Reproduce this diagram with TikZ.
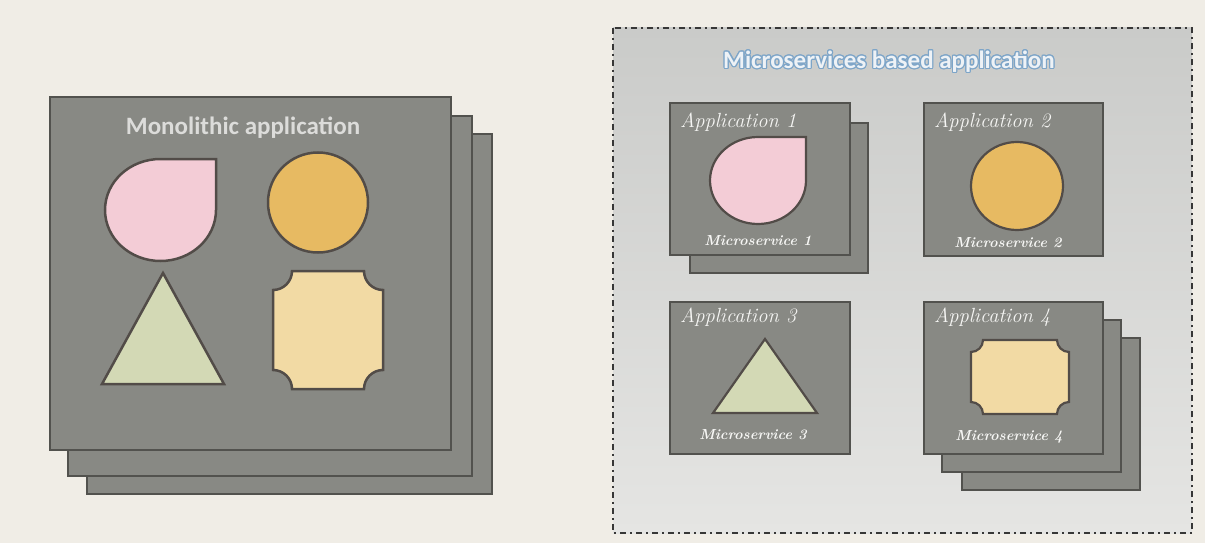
\documentclass[tikz,border=0pt]{standalone}
\usepackage{fontspec}
\usepackage{contour}
\newfontfamily\titlefont{Carlito}
\definecolor{bgc}{RGB}{240,237,230}
\definecolor{boxc}{RGB}{136,137,132}
\definecolor{boxline}{RGB}{82,82,78}
\definecolor{shapeline}{RGB}{82,76,72}
\definecolor{pinkc}{RGB}{243,204,214}
\definecolor{orangec}{RGB}{231,186,98}
\definecolor{greenc}{RGB}{211,217,181}
\definecolor{beigec}{RGB}{242,218,164}
\definecolor{panelA}{RGB}{202,203,201}
\definecolor{panelB}{RGB}{229,229,227}
\definecolor{dashc}{RGB}{55,55,55}
\definecolor{monotext}{RGB}{220,220,218}
\definecolor{microtext}{RGB}{238,242,246}
\definecolor{microglow}{RGB}{125,165,200}
\definecolor{labeltext}{RGB}{246,246,244}
\newcommand\NotchRect[5]{(#1+#5,#2) -- (#3-#5,#2) arc[start angle=180,end angle=90,radius=#5] -- (#3,#4-#5) arc[start angle=270,end angle=180,radius=#5] -- (#1+#5,#4) arc[start angle=0,end angle=-90,radius=#5] -- (#1,#2+#5) arc[start angle=90,end angle=0,radius=#5] -- cycle}
\tikzset{
  appbox/.style={fill=boxc, draw=boxline, line width=2.5pt},
  shapeb/.style={draw=shapeline, line width=2.5pt},
  shapes/.style={draw=shapeline, line width=2.2pt},
  titlebox/.style={inner sep=0pt, font=\titlefont\bfseries\fontsize{25}{28}\selectfont},
  applabel/.style={inner sep=0pt, anchor=west, text=labeltext, font=\itshape\fontsize{20.5}{22}\selectfont},
  mslabel/.style={inner sep=0pt, text=labeltext, font=\bfseries\itshape\fontsize{14.5}{17}\selectfont},
}
\begin{document}
\begin{tikzpicture}[x=1pt,y=-1pt]
\useasboundingbox (0,0) rectangle (1205,543);
\fill[bgc] (0,0) rectangle (1205,543);
% ---------- Monolithic application ----------
\draw[appbox] (87,134) rectangle (492,494);
\draw[appbox] (68,116) rectangle (472,476);
\draw[appbox] (50,97) rectangle (451,450);
\node[titlebox, text=monotext] (mono) at (243,128) {Monolithic application};
\draw[shapeb, fill=pinkc] (216,159) -- (160.5,159) arc[start angle=270,end angle=0,x radius=55.5,y radius=51] -- cycle;
\draw[shapeb, fill=orangec] (318,202.5) circle[radius=50];
\draw[shapeb, fill=greenc] (163,273) -- (224,384) -- (102,384) -- cycle;
\draw[shapeb, fill=beigec] \NotchRect{273}{271}{383}{389}{19};
% ---------- Microservices based application ----------
\shade[top color=panelA, bottom color=panelB] (613,28) rectangle (1192,533);
\draw[dashc, line width=1.8pt, dash pattern=on 6pt off 4pt on 2pt off 4pt] (613,28) rectangle (1192,533);
\contourlength{1.1pt}
\node[titlebox, text=microtext] (micro) at (889,62) {\contour{microglow}{Microservices based application}};
% App 1
\draw[appbox] (690,123) rectangle (868,273);
\draw[appbox] (670,103) rectangle (850,255);
\node[applabel] (a1) at (680,122) {Application 1};
\draw[shapes, fill=pinkc] (806,137) -- (758,137) arc[start angle=270,end angle=0,x radius=48,y radius=43.5] -- cycle;
\node[mslabel] (m1) at (758,241) {Microservice 1};
% App 2
\draw[appbox] (924,103) rectangle (1103,256);
\node[applabel] (a2) at (934,122) {Application 2};
\draw[shapes, fill=orangec] (1017,186) ellipse[x radius=46,y radius=44];
\node[mslabel] (m2) at (1008,243) {Microservice 2};
% App 3
\draw[appbox] (670,302) rectangle (850,454);
\node[applabel] (a3) at (680,317) {Application 3};
\draw[shapes, fill=greenc] (765,339) -- (817,413) -- (713,413) -- cycle;
\node[mslabel] (m3) at (753,435) {Microservice 3};
% App 4
\draw[appbox] (962,338) rectangle (1140,490);
\draw[appbox] (942,320) rectangle (1121,472);
\draw[appbox] (924,302) rectangle (1103,454);
\node[applabel] (a4) at (934,317) {Application 4};
\draw[shapes, fill=beigec] \NotchRect{971}{340}{1069}{414}{12};
\node[mslabel] (m4) at (1009,437) {Microservice 4};
\end{tikzpicture}
\end{document}
